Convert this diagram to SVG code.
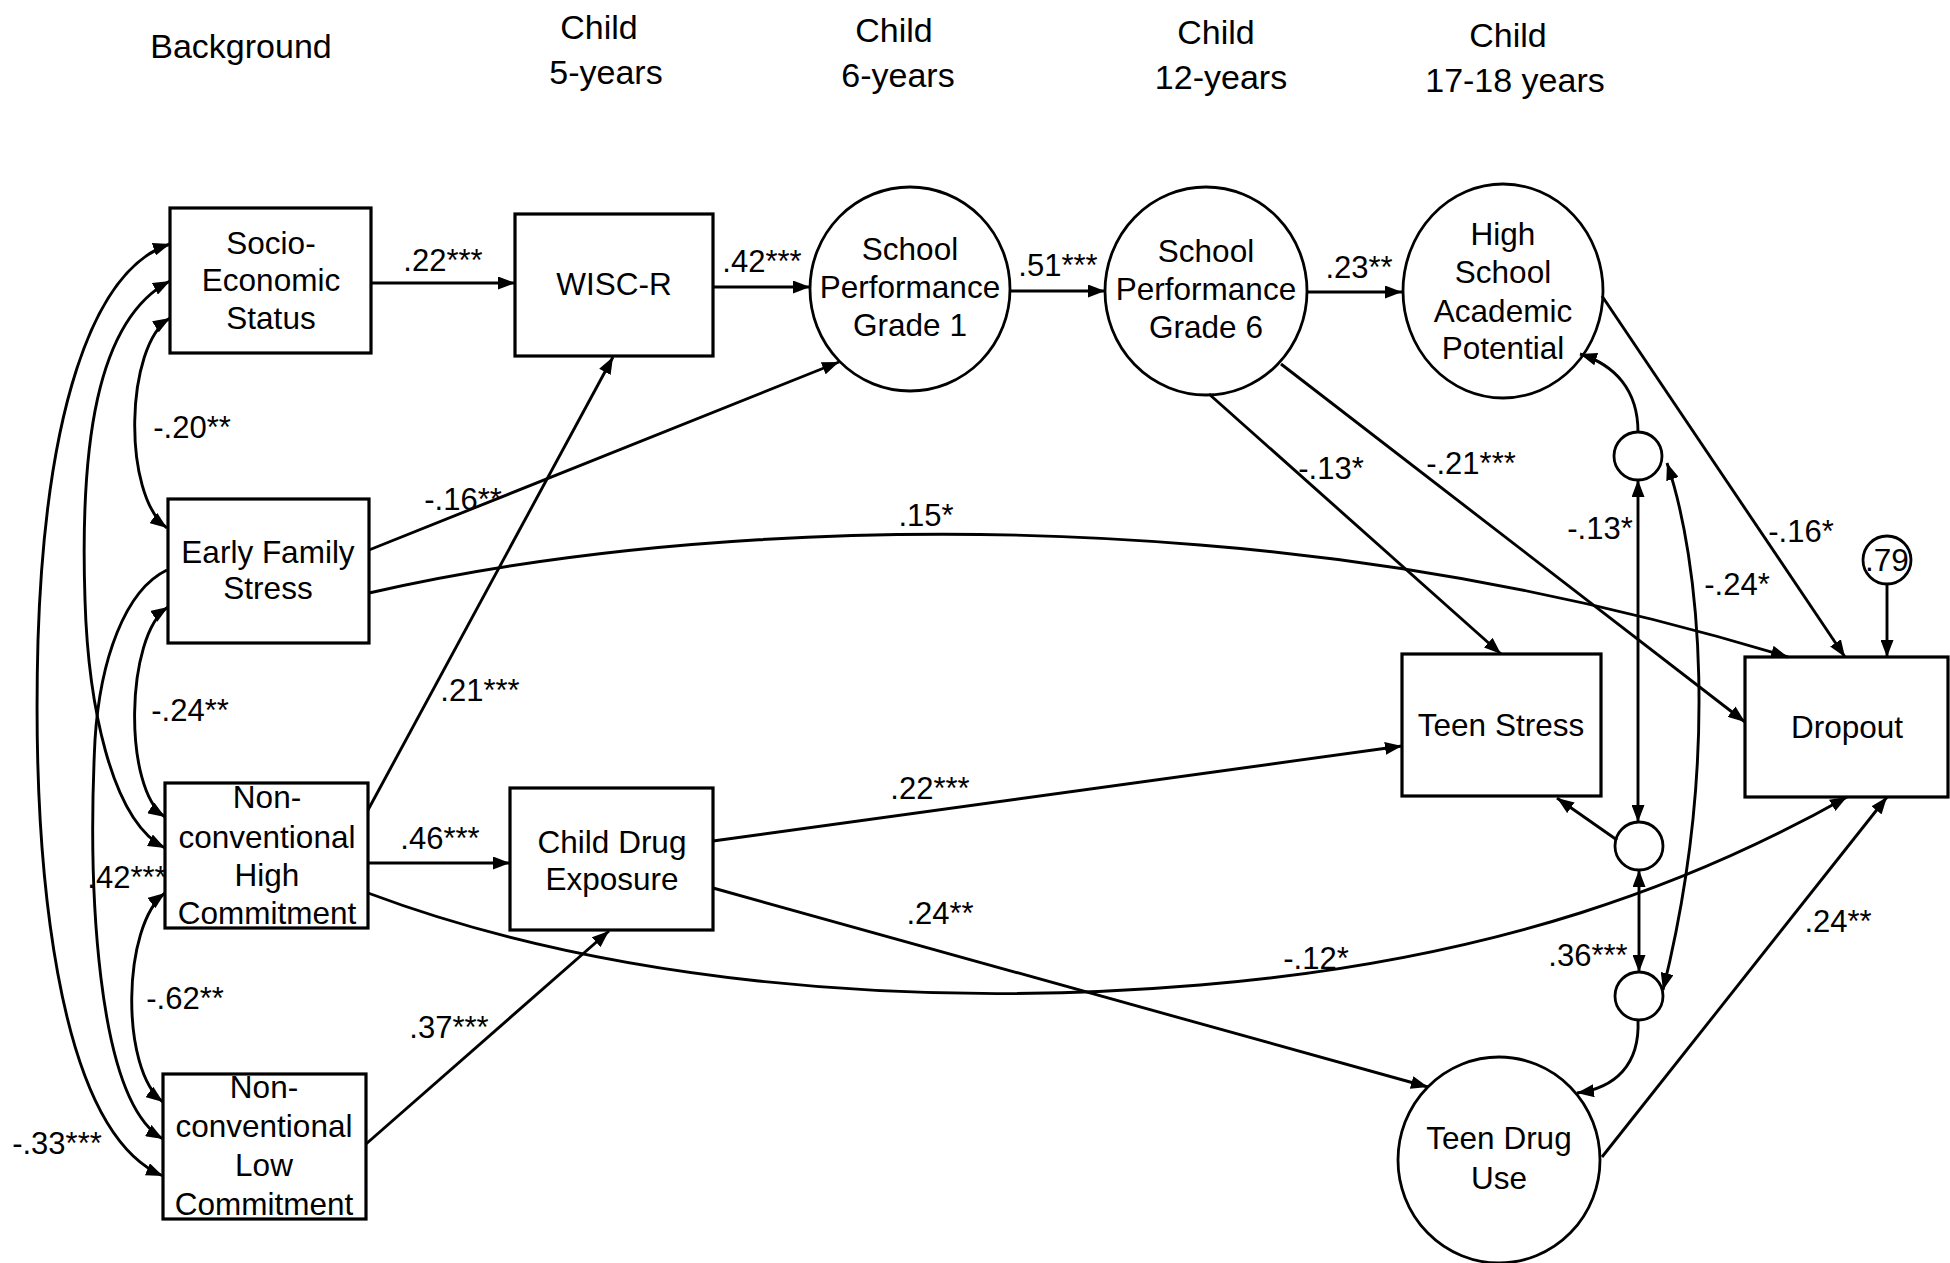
<svg xmlns="http://www.w3.org/2000/svg" width="1950" height="1263" viewBox="0 0 1950 1263">
<style>
.box{fill:#fff;stroke:#000;stroke-width:3.2}
.lat{fill:#fff;stroke:#000;stroke-width:2.8}
text{font-family:"Liberation Sans",Arial,sans-serif;fill:#000;text-anchor:middle}
.t{font-size:31.5px}
.h{font-size:34px}
.lb{font-size:31px}
.c{fill:none;stroke:#000;stroke-width:2.9}
.a{marker-end:url(#ah)}
.d{marker-start:url(#ah);marker-end:url(#ah)}
</style>
<defs>
<marker id="ah" viewBox="0 0 17 13" refX="17" refY="6.5" markerWidth="17" markerHeight="13" markerUnits="userSpaceOnUse" orient="auto-start-reverse"><path d="M0,0 L17,6.5 L0,13 z" fill="#000"/></marker>
</defs>
<rect width="1950" height="1263" fill="#fff"/>
<g id="headers">
<text class="h" x="241" y="58">Background</text>
<text class="h" x="599" y="39">Child</text><text class="h" x="606" y="84">5-years</text>
<text class="h" x="894" y="42">Child</text><text class="h" x="898" y="87">6-years</text>
<text class="h" x="1216" y="44">Child</text><text class="h" x="1221" y="89">12-years</text>
<text class="h" x="1508" y="47">Child</text><text class="h" x="1515" y="92">17-18 years</text>
</g>
<g id="ses"><rect class="box" x="170" y="208" width="201" height="145"/><text class="t" x="271" y="254">Socio-</text><text class="t" x="271" y="291">Economic</text><text class="t" x="271" y="329">Status</text></g>
<g id="efs"><rect class="box" x="168" y="499" width="201" height="144"/><text class="t" x="268" y="563">Early Family</text><text class="t" x="268" y="599">Stress</text></g>
<g id="nhc"><rect class="box" x="165" y="783" width="203" height="145"/><text class="t" x="267" y="808">Non-</text><text class="t" x="267" y="848">conventional</text><text class="t" x="267" y="886">High</text><text class="t" x="267" y="924">Commitment</text></g>
<g id="nlc"><rect class="box" x="163" y="1074" width="203" height="145"/><text class="t" x="264" y="1098">Non-</text><text class="t" x="264" y="1137">conventional</text><text class="t" x="264" y="1176">Low</text><text class="t" x="264" y="1215">Commitment</text></g>
<g id="wisc"><rect class="box" x="515" y="214" width="198" height="142"/><text class="t" x="614" y="295">WISC-R</text></g>
<g id="cde"><rect class="box" x="510" y="788" width="203" height="142"/><text class="t" x="612" y="853">Child Drug</text><text class="t" x="612" y="890">Exposure</text></g>
<g id="sp1"><ellipse class="lat" cx="910" cy="289" rx="100" ry="102"/><text class="t" x="910" y="260">School</text><text class="t" x="910" y="298">Performance</text><text class="t" x="910" y="336">Grade 1</text></g>
<g id="sp6"><ellipse class="lat" cx="1206" cy="291" rx="101" ry="104"/><text class="t" x="1206" y="262">School</text><text class="t" x="1206" y="300">Performance</text><text class="t" x="1206" y="338">Grade 6</text></g>
<g id="hsap"><ellipse class="lat" cx="1503" cy="291" rx="100" ry="107"/><text class="t" x="1503" y="245">High</text><text class="t" x="1503" y="283">School</text><text class="t" x="1503" y="322">Academic</text><text class="t" x="1503" y="359">Potential</text></g>
<g id="teenstress"><rect class="box" x="1402" y="654" width="199" height="142"/><text class="t" x="1501" y="736">Teen Stress</text></g>
<g id="dropout"><rect class="box" x="1745" y="657" width="203" height="140"/><text class="t" x="1847" y="738">Dropout</text></g>
<g id="tdu"><ellipse class="lat" cx="1499" cy="1160" rx="101" ry="103"/><text class="t" x="1499" y="1149">Teen Drug</text><text class="t" x="1499" y="1189">Use</text></g>
<g id="e1"><circle class="lat" cx="1638" cy="456" r="24"/></g>
<g id="e2"><circle class="lat" cx="1639" cy="846" r="24"/></g>
<g id="e3"><circle class="lat" cx="1639" cy="996" r="24"/></g>
<g id="r79"><circle class="lat" cx="1887" cy="560" r="24"/><text class="t" x="1887" y="571">.79</text></g>
<g id="connectors">
<path class="c d" d="M170,318 C125,345 122,495 167,528"/>
<path class="c d" d="M168,607 C125,635 123,790 165,817"/>
<path class="c d" d="M165,893 C122,925 120,1070 163,1102"/>
<path class="c d" d="M170,281 C95,320 80,450 85,600 C88,700 110,820 165,848"/>
<path class="c a" d="M167,570 C125,590 100,660 95,740 C88,880 95,1100 163,1139"/>
<path class="c d" d="M170,244 C90,270 45,420 38,640 C32,860 55,1130 163,1176"/>
<path class="c a" d="M371,283 L515,283"/>
<path class="c a" d="M713,287 L810,287"/>
<path class="c a" d="M1009,291 L1105,291"/>
<path class="c a" d="M1307,292 L1402,292"/>
<path class="c a" d="M369,550 L839,362"/>
<path class="c a" d="M368,810 L613,357"/>
<path class="c a" d="M368,863 L510,863"/>
<path class="c a" d="M366,1144 L609,931"/>
<path class="c a" d="M713,841 L1402,746"/>
<path class="c a" d="M713,888 L1428,1087"/>
<path class="c a" d="M369,593 C600,540 900,520 1200,545 C1450,565 1650,615 1788,657"/>
<path class="c a" d="M368,893 C600,980 900,1010 1200,985 C1500,960 1700,880 1847,797"/>
<path class="c a" d="M1209,394 L1501,654"/>
<path class="c a" d="M1281,364 L1745,722"/>
<path class="c a" d="M1602,296 L1845,657"/>
<path class="c a" d="M1887,584 L1887,657"/>
<path class="c a" d="M1602,1157 L1887,797"/>
<path class="c a" d="M1617,840 L1557,798"/>
<path class="c a" d="M1638,432 C1638,390 1615,365 1580,354"/>
<path class="c d" d="M1638,480 L1638,822"/>
<path class="c d" d="M1639,870 L1639,972"/>
<path class="c d" d="M1667,463 C1700,560 1720,760 1663,990"/>
<path class="c a" d="M1638,1020 C1640,1065 1615,1088 1577,1093"/>
</g>
<g id="labels">
<text class="lb" x="443" y="271">.22***</text>
<text class="lb" x="762" y="272">.42***</text>
<text class="lb" x="1058" y="276">.51***</text>
<text class="lb" x="1359" y="278">.23**</text>
<text class="lb" x="192" y="438">-.20**</text>
<text class="lb" x="463" y="510">-.16**</text>
<text class="lb" x="926" y="526">.15*</text>
<text class="lb" x="190" y="721">-.24**</text>
<text class="lb" x="480" y="701">.21***</text>
<text class="lb" x="440" y="849">.46***</text>
<text class="lb" x="127" y="888">.42***</text>
<text class="lb" x="185" y="1009">-.62**</text>
<text class="lb" x="449" y="1038">.37***</text>
<text class="lb" x="57" y="1154">-.33***</text>
<text class="lb" x="930" y="799">.22***</text>
<text class="lb" x="940" y="924">.24**</text>
<text class="lb" x="1316" y="969">-.12*</text>
<text class="lb" x="1331" y="479">-.13*</text>
<text class="lb" x="1471" y="474">-.21***</text>
<text class="lb" x="1600" y="539">-.13*</text>
<text class="lb" x="1801" y="542">-.16*</text>
<text class="lb" x="1737" y="595">-.24*</text>
<text class="lb" x="1588" y="966">.36***</text>
<text class="lb" x="1838" y="932">.24**</text>
</g>
</svg>
